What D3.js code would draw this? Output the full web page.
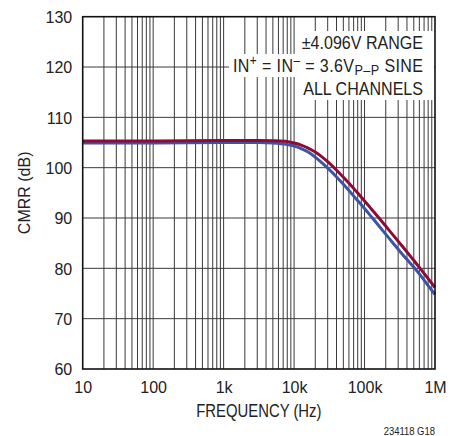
<!DOCTYPE html>
<html>
<head>
<meta charset="utf-8">
<script src="https://cdn.jsdelivr.net/npm/d3@7"></script>
<style>
  html, body { margin: 0; padding: 0; background: #fff; }
  svg { display: block; font-family: "Liberation Sans", Arial, Helvetica, sans-serif; }
</style>
</head>
<body>
<svg id="chart" width="458" height="436"></svg>
<script>
// ---- data (frequency in Hz, CMRR in dB) ----
const freqHz = [10, 100, 1000, 3162, 5012, 7943, 10000, 12589, 15849, 19953, 25119, 31623, 39811, 50119,
                63096, 79433, 100000, 125893, 158489, 199526, 251189, 316228, 398107, 501187, 630957, 794328, 1000000];
const redDb  = [105.3, 105.3, 105.4, 105.4, 105.35, 105.2, 104.9, 104.5, 103.9, 103.1, 102.1, 100.9, 99.55, 98.1,
                96.6, 95.0, 93.4, 91.75, 90.1, 88.4, 86.7, 85.0, 83.3, 81.55, 79.8, 78.0, 76.2];
const blueDb = [104.9, 104.9, 105.0, 105.0, 104.9, 104.6, 104.3, 103.8, 103.1, 102.1, 100.9, 99.6, 98.2, 96.7,
                95.1, 93.5, 91.9, 90.2, 88.5, 86.8, 85.1, 83.4, 81.8, 80.2, 78.5, 76.6, 74.8];
const xTickValues = [10, 100, 1000, 10000, 100000, 1000000];
const xTickLabels = ["10", "100", "1k", "10k", "100k", "1M"];
const yTickValues = [60, 70, 80, 90, 100, 110, 120, 130];
const noteLines = ["±4.096V RANGE", "IN+ = IN− = 3.6VP–P SINE", "ALL CHANNELS"];

const svg = d3.select("#chart");
const L = 82.7, R = 435, T = 16.7, B = 369;
const x = d3.scaleLog().domain([10, 1e6]).range([L, R]);
const y = d3.scaleLinear().domain([60, 130]).range([B, T]);
const SX = 0.845; // narrow-font emulation

// minor + major vertical grid
const vGrid = [];
for (let d = 10; d < 1e6; d *= 10) for (let k = 1; k <= 9; k++) vGrid.push(d * k);
svg.append("g").selectAll("line").data(vGrid.filter(v => v > 10)).join("line")
  .attr("x1", d => x(d)).attr("x2", d => x(d)).attr("y1", T).attr("y2", B)
  .attr("stroke", "#3a3a3a").attr("stroke-width", 1);
svg.append("g").selectAll("line").data(yTickValues.slice(1, -1)).join("line")
  .attr("x1", L).attr("x2", R).attr("y1", d => y(d)).attr("y2", d => y(d))
  .attr("stroke", "#3a3a3a").attr("stroke-width", 1);

// annotation boxes
const note = svg.append("g");
const baselines = [49, 72, 95];
const textX = 423;
function addLine(i, build, len) {
  const rect = note.append("rect").attr("fill", "#fff");
  const g = note.append("g").attr("transform", `translate(${textX},${baselines[i]}) scale(${SX},1)`);
  const t = g.append("text").attr("x", 0).attr("y", 0)
    .attr("text-anchor", "end").attr("font-size", 19).attr("fill", "#222");
  if (len) t.attr("textLength", len / SX).attr("lengthAdjust", "spacing");
  build(t);
  const bb = t.node().getBBox();
  const left = textX + bb.x * SX;
  rect.attr("x", left - 4).attr("y", baselines[i] - 18)
    .attr("width", R - 1 - (left - 4)).attr("height", 23);
}
addLine(0, t => t.text(noteLines[0]));
addLine(1, t => {
  t.append("tspan").text("IN");
  t.append("tspan").attr("font-size", 14).attr("dy", -7).text("+");
  t.append("tspan").attr("dy", 7).text(" = IN");
  t.append("tspan").attr("font-size", 14).attr("dy", -7).text("\u2013");
  t.append("tspan").attr("dy", 7).text(" = 3.6V");
  t.append("tspan").attr("font-size", 15).attr("dy", 3).text("P\u2013P");
  t.append("tspan").attr("dy", -3).text(" SINE");
}, 190);
addLine(2, t => t.text(noteLines[2]));

// curves
const line = d3.line().x(d => x(d[0])).y(d => y(d[1])).curve(d3.curveMonotoneX);
svg.append("path").datum(freqHz.map((f, i) => [f, blueDb[i]]))
  .attr("d", line).attr("fill", "none").attr("stroke", "#3b55a6").attr("stroke-width", 3);
svg.append("path").datum(freqHz.map((f, i) => [f, redDb[i]]))
  .attr("d", line).attr("fill", "none").attr("stroke", "#8e0b34").attr("stroke-width", 3);

// frame
svg.append("rect").attr("x", L).attr("y", T).attr("width", R - L).attr("height", B - T)
  .attr("fill", "none").attr("stroke", "#111").attr("stroke-width", 1.6);

// axes labels
const xAxis = d3.axisBottom(x).tickValues(xTickValues)
  .tickFormat((d, i) => xTickLabels[i]).tickSize(0).tickPadding(0);
const gx = svg.append("g").attr("transform", `translate(0,${B})`).call(xAxis);
gx.select(".domain").remove();
gx.selectAll("text").attr("font-size", 16).attr("fill", "#222")
  .attr("font-family", null).attr("dy", null).attr("y", 24);

const yAxis = d3.axisLeft(y).tickValues(yTickValues).tickSize(0).tickPadding(0);
const gy = svg.append("g").attr("transform", `translate(${L - 10.5},0)`).call(yAxis);
gy.select(".domain").remove();
gy.selectAll("text").attr("font-size", 16).attr("fill", "#222")
  .attr("font-family", null).attr("dy", "0.36em");

svg.append("g").attr("transform", `translate(${(L + R) / 2},417) scale(${SX},1)`)
  .append("text").attr("text-anchor", "middle")
  .attr("font-size", 17.6).attr("fill", "#222").text("FREQUENCY (Hz)");
svg.append("text").attr("transform", `translate(30,${(T + B) / 2}) rotate(-90)`)
  .attr("text-anchor", "middle").attr("font-size", 16).attr("fill", "#222").text("CMRR (dB)");
svg.append("g").attr("transform", `translate(${R},434.5) scale(${SX},1)`)
  .append("text").attr("text-anchor", "end")
  .attr("font-size", 11.2).attr("fill", "#222").text("234118 G18");
</script>
</body>
</html>
